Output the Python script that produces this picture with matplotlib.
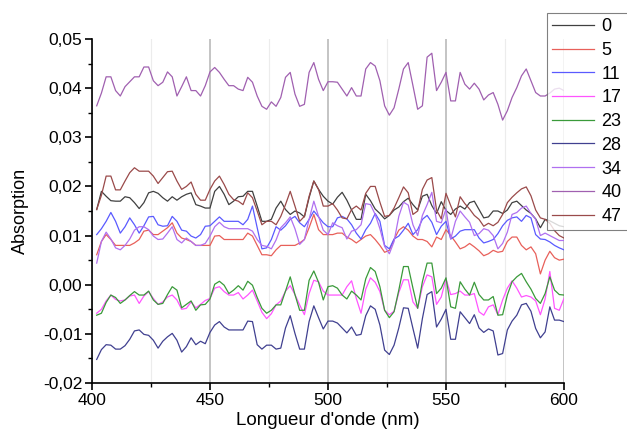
import matplotlib
matplotlib.use('Agg')
import matplotlib.pyplot as plt
import numpy as np
from matplotlib.ticker import MultipleLocator, FuncFormatter

plt.rcParams['font.family'] = ['Liberation Sans', 'DejaVu Sans']

# longueurs d'onde (nm)
wl = np.arange(402, 602, 2)

a0 = [0.0153, 0.0190, 0.0180, 0.0171, 0.0170, 0.0170, 0.0179, 0.0177, 0.0167, 0.0155,
      0.0167, 0.0187, 0.0190, 0.0186, 0.0177, 0.0170, 0.0179, 0.0172, 0.0179, 0.0184,
      0.0187, 0.0163, 0.0160, 0.0156, 0.0156, 0.0190, 0.0200, 0.0184, 0.0163, 0.0170,
      0.0179, 0.0180, 0.0190, 0.0190, 0.0160, 0.0129, 0.0129, 0.0133, 0.0156, 0.0170,
      0.0153, 0.0143, 0.0150, 0.0146, 0.0138, 0.0177, 0.0211, 0.0194, 0.0180, 0.0170,
      0.0164, 0.0178, 0.0188, 0.0172, 0.0152, 0.0133, 0.0133, 0.0184, 0.0171, 0.0154,
      0.0145, 0.0134, 0.0141, 0.0152, 0.0158, 0.0169, 0.0176, 0.0163, 0.0152, 0.0180,
      0.0184, 0.0161, 0.0145, 0.0169, 0.0151, 0.0143, 0.0154, 0.0160, 0.0154, 0.0167,
      0.0170, 0.0153, 0.0136, 0.0138, 0.0150, 0.0150, 0.0145, 0.0152, 0.0167, 0.0170,
      0.0161, 0.0152, 0.0145, 0.0134, 0.0116, 0.0133, 0.0130, 0.0125, 0.0120, 0.0118]

a5 = [0.0061, 0.0088, 0.0102, 0.0092, 0.0080, 0.0080, 0.0080, 0.0080, 0.0085, 0.0092,
      0.0109, 0.0111, 0.0102, 0.0102, 0.0109, 0.0116, 0.0126, 0.0105, 0.0095, 0.0092,
      0.0088, 0.0080, 0.0080, 0.0080, 0.0080, 0.0099, 0.0100, 0.0092, 0.0092, 0.0092,
      0.0092, 0.0092, 0.0105, 0.0099, 0.0080, 0.0061, 0.0061, 0.0059, 0.0071, 0.0080,
      0.0080, 0.0080, 0.0080, 0.0085, 0.0092, 0.0116, 0.0143, 0.0112, 0.0102, 0.0102,
      0.0102, 0.0105, 0.0105, 0.0097, 0.0092, 0.0085, 0.0092, 0.0099, 0.0102, 0.0092,
      0.0080, 0.0066, 0.0070, 0.0092, 0.0111, 0.0118, 0.0111, 0.0099, 0.0092, 0.0092,
      0.0088, 0.0077, 0.0097, 0.0092, 0.0112, 0.0100, 0.0087, 0.0073, 0.0077, 0.0084,
      0.0077, 0.0069, 0.0059, 0.0063, 0.0070, 0.0066, 0.0068, 0.0088, 0.0097, 0.0097,
      0.0080, 0.0071, 0.0077, 0.0063, 0.0022, 0.0050, 0.0068, 0.0055, 0.0050, 0.0052]

a11 = [0.0102, 0.0114, 0.0129, 0.0147, 0.0129, 0.0105, 0.0118, 0.0136, 0.0122, 0.0105,
       0.0120, 0.0138, 0.0139, 0.0122, 0.0119, 0.0120, 0.0139, 0.0129, 0.0111, 0.0109,
       0.0099, 0.0095, 0.0102, 0.0119, 0.0120, 0.0129, 0.0138, 0.0129, 0.0129, 0.0129,
       0.0129, 0.0122, 0.0133, 0.0160, 0.0116, 0.0073, 0.0075, 0.0092, 0.0118, 0.0111,
       0.0120, 0.0133, 0.0139, 0.0126, 0.0118, 0.0133, 0.0150, 0.0138, 0.0126, 0.0118,
       0.0118, 0.0136, 0.0139, 0.0134, 0.0122, 0.0105, 0.0093, 0.0112, 0.0125, 0.0145,
       0.0129, 0.0080, 0.0073, 0.0093, 0.0099, 0.0111, 0.0125, 0.0102, 0.0112, 0.0133,
       0.0141, 0.0127, 0.0102, 0.0119, 0.0129, 0.0093, 0.0099, 0.0109, 0.0112, 0.0112,
       0.0112, 0.0095, 0.0085, 0.0088, 0.0092, 0.0104, 0.0120, 0.0131, 0.0136, 0.0138,
       0.0129, 0.0141, 0.0136, 0.0102, 0.0093, 0.0092, 0.0087, 0.0080, 0.0075, 0.0071]

a17 = [-0.0058, -0.0050, -0.0033, -0.0021, -0.0030, -0.0033, -0.0031, -0.0023, -0.0021, -0.0038,
       -0.0023, -0.0014, -0.0028, -0.0040, -0.0035, -0.0025, -0.0021, -0.0031, -0.0050, -0.0048,
       -0.0035, -0.0047, -0.0040, -0.0032, -0.0028, -0.0007, -0.0004, -0.0014, -0.0021, -0.0021,
       -0.0016, -0.0029, -0.0021, -0.0011, -0.0033, -0.0056, -0.0069, -0.0059, -0.0041, -0.0033,
       -0.0013, -0.0002, -0.0020, -0.0041, -0.0061, -0.0018, 0.0009, 0.0006, -0.0013, -0.0021,
       -0.0021, -0.0021, -0.0021, -0.0004, 0.0008, -0.0028, -0.0058, -0.0009, 0.0014, 0.0005,
       -0.0014, -0.0052, -0.0061, -0.0054, -0.0016, 0.0010, 0.0010, -0.0035, -0.0048, -0.0004,
       0.0020, 0.0016, -0.0040, -0.0025, 0.0012, -0.0020, -0.0018, -0.0013, -0.0021, -0.0021,
       -0.0018, -0.0055, -0.0062, -0.0045, -0.0041, -0.0061, -0.0031, -0.0007, 0.0008, -0.0007,
       -0.0025, -0.0022, -0.0025, -0.0033, -0.0061, -0.0029, 0.0027, -0.0048, -0.0052, -0.0028]

a23 = [-0.0062, -0.0058, -0.0036, -0.0021, -0.0026, -0.0038, -0.0031, -0.0022, -0.0014, -0.0021,
       -0.0021, -0.0013, -0.0031, -0.0040, -0.0038, -0.0020, -0.0004, -0.0011, -0.0047, -0.0040,
       -0.0033, -0.0052, -0.0041, -0.0040, -0.0029, 0.0001, 0.0007, -0.0001, -0.0018, -0.0011,
       -0.0002, -0.0011, 0.0007, -0.0001, -0.0026, -0.0048, -0.0058, -0.0052, -0.0041, -0.0041,
       -0.0013, 0.0016, -0.0020, -0.0052, -0.0052, 0.0009, 0.0028, 0.0005, -0.0031, -0.0004,
       -0.0002, -0.0007, -0.0021, -0.0029, -0.0013, -0.0021, -0.0031, 0.0012, 0.0035, 0.0027,
       -0.0004, -0.0052, -0.0067, -0.0055, -0.0011, 0.0037, 0.0037, -0.0007, -0.0048, 0.0006,
       0.0044, 0.0044, -0.0018, -0.0007, 0.0014, -0.0045, -0.0048, 0.0006, -0.0009, -0.0021,
       0.0005, -0.0020, -0.0031, -0.0031, -0.0024, -0.0062, -0.0061, -0.0021, 0.0006, 0.0016,
       0.0023, 0.0006, -0.0009, -0.0028, -0.0038, -0.0018, 0.0016, -0.0011, -0.0020, -0.0021]

a28 = [-0.0152, -0.0132, -0.0122, -0.0123, -0.0131, -0.0131, -0.0124, -0.0111, -0.0094, -0.0092,
       -0.0101, -0.0103, -0.0113, -0.0129, -0.0115, -0.0106, -0.0099, -0.0113, -0.0137, -0.0126,
       -0.0108, -0.0122, -0.0115, -0.0120, -0.0097, -0.0082, -0.0075, -0.0086, -0.0092, -0.0092,
       -0.0092, -0.0092, -0.0074, -0.0075, -0.0122, -0.0131, -0.0123, -0.0123, -0.0131, -0.0129,
       -0.0088, -0.0063, -0.0099, -0.0131, -0.0131, -0.0075, -0.0043, -0.0067, -0.0090, -0.0074,
       -0.0074, -0.0078, -0.0088, -0.0098, -0.0086, -0.0103, -0.0101, -0.0063, -0.0043, -0.0050,
       -0.0082, -0.0133, -0.0142, -0.0123, -0.0088, -0.0047, -0.0048, -0.0089, -0.0129, -0.0069,
       -0.0020, -0.0014, -0.0086, -0.0070, -0.0050, -0.0111, -0.0111, -0.0055, -0.0067, -0.0079,
       -0.0061, -0.0088, -0.0097, -0.0090, -0.0094, -0.0143, -0.0140, -0.0092, -0.0074, -0.0062,
       -0.0041, -0.0038, -0.0054, -0.0089, -0.0108, -0.0096, -0.0045, -0.0072, -0.0072, -0.0075]

a34 = [0.0044, 0.0088, 0.0107, 0.0093, 0.0075, 0.0071, 0.0080, 0.0093, 0.0111, 0.0118,
       0.0118, 0.0112, 0.0099, 0.0092, 0.0093, 0.0105, 0.0118, 0.0092, 0.0085, 0.0095,
       0.0088, 0.0080, 0.0080, 0.0084, 0.0099, 0.0118, 0.0127, 0.0118, 0.0114, 0.0114,
       0.0114, 0.0114, 0.0114, 0.0109, 0.0092, 0.0080, 0.0078, 0.0073, 0.0091, 0.0116,
       0.0126, 0.0138, 0.0114, 0.0082, 0.0092, 0.0133, 0.0170, 0.0139, 0.0111, 0.0102,
       0.0126, 0.0120, 0.0116, 0.0093, 0.0109, 0.0112, 0.0122, 0.0165, 0.0163, 0.0143,
       0.0114, 0.0078, 0.0063, 0.0088, 0.0139, 0.0168, 0.0162, 0.0122, 0.0100, 0.0141,
       0.0163, 0.0188, 0.0129, 0.0126, 0.0154, 0.0093, 0.0129, 0.0150, 0.0138, 0.0127,
       0.0100, 0.0104, 0.0114, 0.0111, 0.0100, 0.0073, 0.0084, 0.0107, 0.0143, 0.0147,
       0.0156, 0.0160, 0.0145, 0.0133, 0.0100, 0.0105, 0.0100, 0.0095, 0.0090, 0.0090]

a40 = [0.0364, 0.0390, 0.0423, 0.0423, 0.0395, 0.0384, 0.0403, 0.0413, 0.0423, 0.0423,
       0.0443, 0.0443, 0.0415, 0.0405, 0.0412, 0.0433, 0.0423, 0.0384, 0.0403, 0.0423,
       0.0395, 0.0395, 0.0384, 0.0405, 0.0433, 0.0442, 0.0432, 0.0418, 0.0405, 0.0405,
       0.0398, 0.0395, 0.0422, 0.0412, 0.0384, 0.0363, 0.0357, 0.0372, 0.0363, 0.0381,
       0.0422, 0.0432, 0.0388, 0.0363, 0.0367, 0.0432, 0.0452, 0.0418, 0.0395, 0.0413,
       0.0413, 0.0412, 0.0398, 0.0384, 0.0401, 0.0384, 0.0384, 0.0439, 0.0452, 0.0445,
       0.0415, 0.0364, 0.0345, 0.0360, 0.0398, 0.0439, 0.0452, 0.0405, 0.0357, 0.0364,
       0.0463, 0.0471, 0.0395, 0.0412, 0.0432, 0.0374, 0.0374, 0.0432, 0.0408, 0.0398,
       0.0410, 0.0398, 0.0376, 0.0386, 0.0391, 0.0367, 0.0335, 0.0354, 0.0381, 0.0401,
       0.0425, 0.0439, 0.0415, 0.0391, 0.0384, 0.0384, 0.0390, 0.0398, 0.0400, 0.0395]

a47 = [0.0153, 0.0182, 0.0221, 0.0221, 0.0193, 0.0193, 0.0211, 0.0228, 0.0238, 0.0231,
       0.0231, 0.0231, 0.0221, 0.0206, 0.0218, 0.0230, 0.0231, 0.0211, 0.0194, 0.0200,
       0.0209, 0.0184, 0.0172, 0.0172, 0.0194, 0.0211, 0.0221, 0.0204, 0.0184, 0.0173,
       0.0170, 0.0163, 0.0187, 0.0177, 0.0150, 0.0122, 0.0129, 0.0129, 0.0122, 0.0139,
       0.0163, 0.0190, 0.0160, 0.0129, 0.0139, 0.0180, 0.0211, 0.0194, 0.0160, 0.0160,
       0.0165, 0.0152, 0.0136, 0.0134, 0.0153, 0.0160, 0.0152, 0.0186, 0.0200, 0.0200,
       0.0168, 0.0139, 0.0141, 0.0156, 0.0177, 0.0199, 0.0187, 0.0143, 0.0150, 0.0194,
       0.0213, 0.0218, 0.0152, 0.0134, 0.0186, 0.0161, 0.0138, 0.0179, 0.0165, 0.0154,
       0.0141, 0.0133, 0.0119, 0.0125, 0.0120, 0.0127, 0.0143, 0.0167, 0.0178, 0.0187,
       0.0195, 0.0199, 0.0181, 0.0152, 0.0136, 0.0133, 0.0125, 0.0110, 0.0100, 0.0095]

labels = ['0', '5', '11', '17', '23', '28', '34', '40', '47']
series = [a0, a5, a11, a17, a23, a28, a34, a40, a47]
colors = ['#404040', '#e8605a', '#5a5aff', '#ff55ff', '#3a9a3a',
          '#404090', '#b070f0', '#a060b0', '#9a4a4a']

fig = plt.figure(figsize=(6.27, 4.40), dpi=100)
ax = fig.add_axes([0.1467, 0.1295, 0.7528, 0.7819])

for y, c, lab in zip(series, colors, labels):
    ax.plot(wl, y, color=c, lw=0.9, label=lab)

ax.set_xlim(400, 600)
ax.set_ylim(-0.02, 0.05)
ax.xaxis.set_major_locator(MultipleLocator(50))
ax.xaxis.set_minor_locator(MultipleLocator(25))
ax.yaxis.set_major_locator(MultipleLocator(0.01))
ax.yaxis.set_minor_locator(MultipleLocator(0.005))
ax.yaxis.set_major_formatter(FuncFormatter(lambda v, p: f'{v:.2f}'.replace('.', ',')))

# grille verticale seulement
ax.grid(axis='x', which='major', color='#c4c4c4', lw=1.4)
ax.grid(axis='x', which='minor', color='#ececec', lw=0.8)
ax.set_axisbelow(True)
for t in ax.xaxis.get_major_ticks():
    if t.get_loc() in (400, 600):
        t.gridline.set_visible(False)

for s in ['top', 'right']:
    ax.spines[s].set_visible(False)
for s in ['left', 'bottom']:
    ax.spines[s].set_linewidth(1.2)

ax.tick_params(which='major', direction='out', length=5, width=1.2, labelsize=12.5, pad=2)
ax.tick_params(which='minor', direction='out', length=3, width=1.0)

ax.set_xlabel("Longueur d'onde (nm)", fontsize=13.5, labelpad=3)
ax.set_ylabel('Absorption', fontsize=13, labelpad=10)

leg = fig.legend(loc='upper left', bbox_to_anchor=(547 / 627, 1 - 13 / 440, 0.16, 0.0),
                 mode='expand', fontsize=13, frameon=True, fancybox=False,
                 handlelength=2.3, handletextpad=0.4, borderpad=0.3,
                 borderaxespad=0.0, labelspacing=0.37)
leg.get_frame().set_edgecolor('#606060')
leg.get_frame().set_linewidth(0.8)

fig.savefig('out.png', dpi=100)
